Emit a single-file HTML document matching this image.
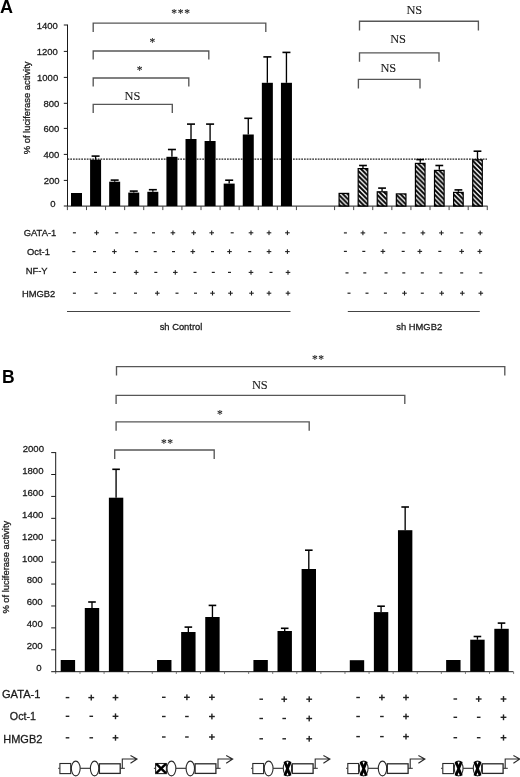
<!DOCTYPE html><html><head><meta charset="utf-8"><style>html,body{margin:0;padding:0;background:#fff;width:520px;height:777px;overflow:hidden}svg{display:block;filter:blur(0.35px)}</style></head><body>
<svg width="520" height="777" viewBox="0 0 520 777">
<defs><pattern id="h" patternUnits="userSpaceOnUse" width="4.8" height="4.8"><path d="M-1.2,-1.2 L6,6 M-1.2,3.6 L1.2,6 M3.6,-1.2 L6,1.2" stroke="#000" stroke-width="1.95"/></pattern></defs>
<rect width="520" height="777" fill="#fff"/>
<text x="-0.10" y="13.00" font-family='"Liberation Sans", sans-serif' font-size="18" text-anchor="start" fill="#000" font-weight="bold">A</text>
<line x1="67.50" y1="24.59" x2="67.50" y2="206.60" stroke="#1a1a1a" stroke-width="1"/>
<line x1="63.80" y1="206.00" x2="67.50" y2="206.00" stroke="#1a1a1a" stroke-width="1"/>
<text x="55.60" y="207.20" font-family='"Liberation Sans", sans-serif' font-size="9.5" text-anchor="end" fill="#1a1a1a"  stroke="#1a1a1a" stroke-width="0.28">0</text>
<line x1="63.80" y1="180.40" x2="67.50" y2="180.40" stroke="#1a1a1a" stroke-width="1"/>
<text x="59.50" y="183.70" font-family='"Liberation Sans", sans-serif' font-size="9.5" text-anchor="end" fill="#1a1a1a"  stroke="#1a1a1a" stroke-width="0.28">200</text>
<line x1="63.80" y1="154.40" x2="67.50" y2="154.40" stroke="#1a1a1a" stroke-width="1"/>
<text x="59.40" y="157.70" font-family='"Liberation Sans", sans-serif' font-size="9.5" text-anchor="end" fill="#1a1a1a"  stroke="#1a1a1a" stroke-width="0.28">400</text>
<line x1="63.80" y1="128.40" x2="67.50" y2="128.40" stroke="#1a1a1a" stroke-width="1"/>
<text x="59.40" y="131.80" font-family='"Liberation Sans", sans-serif' font-size="9.5" text-anchor="end" fill="#1a1a1a"  stroke="#1a1a1a" stroke-width="0.28">600</text>
<line x1="63.80" y1="103.30" x2="67.50" y2="103.30" stroke="#1a1a1a" stroke-width="1"/>
<text x="59.30" y="106.50" font-family='"Liberation Sans", sans-serif' font-size="9.5" text-anchor="end" fill="#1a1a1a"  stroke="#1a1a1a" stroke-width="0.28">800</text>
<line x1="63.80" y1="77.40" x2="67.50" y2="77.40" stroke="#1a1a1a" stroke-width="1"/>
<text x="58.20" y="80.60" font-family='"Liberation Sans", sans-serif' font-size="9.5" text-anchor="end" fill="#1a1a1a"  stroke="#1a1a1a" stroke-width="0.28">1000</text>
<line x1="63.80" y1="51.40" x2="67.50" y2="51.40" stroke="#1a1a1a" stroke-width="1"/>
<text x="57.90" y="54.60" font-family='"Liberation Sans", sans-serif' font-size="9.5" text-anchor="end" fill="#1a1a1a"  stroke="#1a1a1a" stroke-width="0.28">1200</text>
<line x1="63.80" y1="25.00" x2="67.50" y2="25.00" stroke="#1a1a1a" stroke-width="1"/>
<text x="57.80" y="28.50" font-family='"Liberation Sans", sans-serif' font-size="9.5" text-anchor="end" fill="#1a1a1a"  stroke="#1a1a1a" stroke-width="0.28">1400</text>
<text transform="translate(30.4,107.9) rotate(-90)" font-family='"Liberation Sans", sans-serif' font-size="9.4" text-anchor="middle" fill="#1a1a1a" stroke="#1a1a1a" stroke-width="0.28">% of luciferase activity</text>
<line x1="67.50" y1="206.10" x2="487.60" y2="206.10" stroke="#1a1a1a" stroke-width="1"/>
<line x1="67.40" y1="206.10" x2="67.40" y2="210.10" stroke="#444" stroke-width="1"/>
<line x1="86.49" y1="206.10" x2="86.49" y2="210.10" stroke="#444" stroke-width="1"/>
<line x1="105.57" y1="206.10" x2="105.57" y2="210.10" stroke="#444" stroke-width="1"/>
<line x1="124.66" y1="206.10" x2="124.66" y2="210.10" stroke="#444" stroke-width="1"/>
<line x1="143.74" y1="206.10" x2="143.74" y2="210.10" stroke="#444" stroke-width="1"/>
<line x1="162.83" y1="206.10" x2="162.83" y2="210.10" stroke="#444" stroke-width="1"/>
<line x1="181.91" y1="206.10" x2="181.91" y2="210.10" stroke="#444" stroke-width="1"/>
<line x1="201.00" y1="206.10" x2="201.00" y2="210.10" stroke="#444" stroke-width="1"/>
<line x1="220.08" y1="206.10" x2="220.08" y2="210.10" stroke="#444" stroke-width="1"/>
<line x1="239.17" y1="206.10" x2="239.17" y2="210.10" stroke="#444" stroke-width="1"/>
<line x1="258.25" y1="206.10" x2="258.25" y2="210.10" stroke="#444" stroke-width="1"/>
<line x1="277.34" y1="206.10" x2="277.34" y2="210.10" stroke="#444" stroke-width="1"/>
<line x1="296.42" y1="206.10" x2="296.42" y2="210.10" stroke="#444" stroke-width="1"/>
<line x1="334.59" y1="206.10" x2="334.59" y2="210.10" stroke="#444" stroke-width="1"/>
<line x1="353.68" y1="206.10" x2="353.68" y2="210.10" stroke="#444" stroke-width="1"/>
<line x1="372.76" y1="206.10" x2="372.76" y2="210.10" stroke="#444" stroke-width="1"/>
<line x1="391.85" y1="206.10" x2="391.85" y2="210.10" stroke="#444" stroke-width="1"/>
<line x1="410.93" y1="206.10" x2="410.93" y2="210.10" stroke="#444" stroke-width="1"/>
<line x1="430.01" y1="206.10" x2="430.01" y2="210.10" stroke="#444" stroke-width="1"/>
<line x1="449.10" y1="206.10" x2="449.10" y2="210.10" stroke="#444" stroke-width="1"/>
<line x1="468.19" y1="206.10" x2="468.19" y2="210.10" stroke="#444" stroke-width="1"/>
<line x1="487.27" y1="206.10" x2="487.27" y2="210.10" stroke="#444" stroke-width="1"/>
<line x1="67.5" y1="159.1" x2="487" y2="159.1" stroke="#222" stroke-width="1.1" stroke-dasharray="1.75 1.0"/>
<rect x="71.00" y="193.00" width="11.0" height="13.10" fill="#000"/>
<rect x="90.09" y="159.70" width="11.0" height="46.40" fill="#000"/>
<line x1="95.59" y1="159.70" x2="95.59" y2="156.10" stroke="#000" stroke-width="1.35"/>
<line x1="91.59" y1="156.10" x2="99.59" y2="156.10" stroke="#000" stroke-width="1.6"/>
<rect x="109.17" y="181.70" width="11.0" height="24.40" fill="#000"/>
<line x1="114.67" y1="181.70" x2="114.67" y2="180.10" stroke="#000" stroke-width="1.35"/>
<line x1="110.67" y1="180.10" x2="118.67" y2="180.10" stroke="#000" stroke-width="1.6"/>
<rect x="128.25" y="192.60" width="11.0" height="13.50" fill="#000"/>
<line x1="133.75" y1="192.60" x2="133.75" y2="191.10" stroke="#000" stroke-width="1.35"/>
<line x1="129.75" y1="191.10" x2="137.75" y2="191.10" stroke="#000" stroke-width="1.6"/>
<rect x="147.34" y="191.80" width="11.0" height="14.30" fill="#000"/>
<line x1="152.84" y1="191.80" x2="152.84" y2="189.70" stroke="#000" stroke-width="1.35"/>
<line x1="148.84" y1="189.70" x2="156.84" y2="189.70" stroke="#000" stroke-width="1.6"/>
<rect x="166.43" y="156.80" width="11.0" height="49.30" fill="#000"/>
<line x1="171.93" y1="156.80" x2="171.93" y2="149.50" stroke="#000" stroke-width="1.35"/>
<line x1="167.93" y1="149.50" x2="175.93" y2="149.50" stroke="#000" stroke-width="1.6"/>
<rect x="185.51" y="139.00" width="11.0" height="67.10" fill="#000"/>
<line x1="191.01" y1="139.00" x2="191.01" y2="124.10" stroke="#000" stroke-width="1.35"/>
<line x1="187.01" y1="124.10" x2="195.01" y2="124.10" stroke="#000" stroke-width="1.6"/>
<rect x="204.59" y="141.00" width="11.0" height="65.10" fill="#000"/>
<line x1="210.09" y1="141.00" x2="210.09" y2="124.10" stroke="#000" stroke-width="1.35"/>
<line x1="206.09" y1="124.10" x2="214.09" y2="124.10" stroke="#000" stroke-width="1.6"/>
<rect x="223.68" y="183.60" width="11.0" height="22.50" fill="#000"/>
<line x1="229.18" y1="183.60" x2="229.18" y2="180.20" stroke="#000" stroke-width="1.35"/>
<line x1="225.18" y1="180.20" x2="233.18" y2="180.20" stroke="#000" stroke-width="1.6"/>
<rect x="242.77" y="134.50" width="11.0" height="71.60" fill="#000"/>
<line x1="248.27" y1="134.50" x2="248.27" y2="118.30" stroke="#000" stroke-width="1.35"/>
<line x1="244.27" y1="118.30" x2="252.27" y2="118.30" stroke="#000" stroke-width="1.6"/>
<rect x="261.85" y="82.80" width="11.0" height="123.30" fill="#000"/>
<line x1="267.35" y1="82.80" x2="267.35" y2="56.90" stroke="#000" stroke-width="1.35"/>
<line x1="263.35" y1="56.90" x2="271.35" y2="56.90" stroke="#000" stroke-width="1.6"/>
<rect x="280.94" y="82.80" width="11.0" height="123.30" fill="#000"/>
<line x1="286.44" y1="82.80" x2="286.44" y2="52.40" stroke="#000" stroke-width="1.35"/>
<line x1="282.44" y1="52.40" x2="290.44" y2="52.40" stroke="#000" stroke-width="1.6"/>
<rect x="339.09" y="193.40" width="9.60" height="12.70" fill="url(#h)" stroke="#000" stroke-width="1.2"/>
<rect x="358.18" y="168.60" width="9.60" height="37.50" fill="url(#h)" stroke="#000" stroke-width="1.2"/>
<line x1="362.98" y1="168.00" x2="362.98" y2="165.50" stroke="#000" stroke-width="1.35"/>
<line x1="359.08" y1="165.50" x2="366.88" y2="165.50" stroke="#000" stroke-width="1.6"/>
<rect x="377.26" y="191.80" width="9.60" height="14.30" fill="url(#h)" stroke="#000" stroke-width="1.2"/>
<line x1="382.06" y1="191.20" x2="382.06" y2="188.10" stroke="#000" stroke-width="1.35"/>
<line x1="378.16" y1="188.10" x2="385.96" y2="188.10" stroke="#000" stroke-width="1.6"/>
<rect x="396.35" y="193.90" width="9.60" height="12.20" fill="url(#h)" stroke="#000" stroke-width="1.2"/>
<rect x="415.43" y="163.40" width="9.60" height="42.70" fill="url(#h)" stroke="#000" stroke-width="1.2"/>
<line x1="420.23" y1="162.80" x2="420.23" y2="159.60" stroke="#000" stroke-width="1.35"/>
<line x1="416.33" y1="159.60" x2="424.13" y2="159.60" stroke="#000" stroke-width="1.6"/>
<rect x="434.51" y="170.40" width="9.60" height="35.70" fill="url(#h)" stroke="#000" stroke-width="1.2"/>
<line x1="439.31" y1="169.80" x2="439.31" y2="165.50" stroke="#000" stroke-width="1.35"/>
<line x1="435.41" y1="165.50" x2="443.21" y2="165.50" stroke="#000" stroke-width="1.6"/>
<rect x="453.60" y="192.40" width="9.60" height="13.70" fill="url(#h)" stroke="#000" stroke-width="1.2"/>
<line x1="458.40" y1="191.80" x2="458.40" y2="189.90" stroke="#000" stroke-width="1.35"/>
<line x1="454.50" y1="189.90" x2="462.30" y2="189.90" stroke="#000" stroke-width="1.6"/>
<rect x="472.69" y="159.80" width="9.60" height="46.30" fill="url(#h)" stroke="#000" stroke-width="1.2"/>
<line x1="477.49" y1="159.20" x2="477.49" y2="151.20" stroke="#000" stroke-width="1.35"/>
<line x1="473.59" y1="151.20" x2="481.38" y2="151.20" stroke="#000" stroke-width="1.6"/>
<path d="M93.20,32.00 V23.10 H265.80 V32.00" fill="none" stroke="#575757" stroke-width="1.35"/>
<path d="M93.20,59.60 V51.00 H208.80 V59.60" fill="none" stroke="#575757" stroke-width="1.35"/>
<path d="M93.20,86.50 V78.00 H188.80 V86.50" fill="none" stroke="#575757" stroke-width="1.35"/>
<path d="M93.20,113.10 V104.40 H172.30 V113.10" fill="none" stroke="#575757" stroke-width="1.35"/>
<path d="M359.50,30.40 V21.20 H478.40 V30.40" fill="none" stroke="#575757" stroke-width="1.35"/>
<path d="M359.50,61.80 V52.80 H439.00 V61.80" fill="none" stroke="#575757" stroke-width="1.35"/>
<path d="M358.40,88.50 V79.30 H420.00 V88.50" fill="none" stroke="#575757" stroke-width="1.35"/>
<text x="181.05" y="17.40" font-family='"Liberation Serif", serif' font-size="11.5" text-anchor="middle" fill="#1a1a1a" letter-spacing="0.7" stroke="#1a1a1a" stroke-width="0.12">***</text>
<text x="152.75" y="45.80" font-family='"Liberation Serif", serif' font-size="11.5" text-anchor="middle" fill="#1a1a1a" letter-spacing="0.7" stroke="#1a1a1a" stroke-width="0.12">*</text>
<text x="139.95" y="74.20" font-family='"Liberation Serif", serif' font-size="11.5" text-anchor="middle" fill="#1a1a1a" letter-spacing="0.7" stroke="#1a1a1a" stroke-width="0.12">*</text>
<text x="132.40" y="99.60" font-family='"Liberation Serif", serif' font-size="12.4" text-anchor="middle" fill="#1a1a1a"  stroke="#1a1a1a" stroke-width="0.12">NS</text>
<text x="414.30" y="14.20" font-family='"Liberation Serif", serif' font-size="12.4" text-anchor="middle" fill="#1a1a1a"  stroke="#1a1a1a" stroke-width="0.12">NS</text>
<text x="398.10" y="43.40" font-family='"Liberation Serif", serif' font-size="12.4" text-anchor="middle" fill="#1a1a1a"  stroke="#1a1a1a" stroke-width="0.12">NS</text>
<text x="388.30" y="71.70" font-family='"Liberation Serif", serif' font-size="12.4" text-anchor="middle" fill="#1a1a1a"  stroke="#1a1a1a" stroke-width="0.12">NS</text>
<text x="40.00" y="236.20" font-family='"Liberation Sans", sans-serif' font-size="9.4" text-anchor="middle" fill="#1a1a1a"  stroke="#1a1a1a" stroke-width="0.28">GATA-1</text>
<text x="38.50" y="255.10" font-family='"Liberation Sans", sans-serif' font-size="9.4" text-anchor="middle" fill="#1a1a1a"  stroke="#1a1a1a" stroke-width="0.28">Oct-1</text>
<text x="36.70" y="273.90" font-family='"Liberation Sans", sans-serif' font-size="9.4" text-anchor="middle" fill="#1a1a1a"  stroke="#1a1a1a" stroke-width="0.28">NF-Y</text>
<text x="38.60" y="296.90" font-family='"Liberation Sans", sans-serif' font-size="9.4" text-anchor="middle" fill="#1a1a1a"  stroke="#1a1a1a" stroke-width="0.28">HMGB2</text>
<rect x="72.90" y="232.20" width="3.0" height="1.2" fill="#222"/>
<rect x="94.30" y="232.25" width="4.6" height="1.1" fill="#222"/>
<rect x="96.05" y="230.50" width="1.1" height="4.6" fill="#222"/>
<rect x="115.20" y="232.20" width="3.0" height="1.2" fill="#222"/>
<rect x="133.60" y="232.20" width="3.0" height="1.2" fill="#222"/>
<rect x="152.00" y="232.20" width="3.0" height="1.2" fill="#222"/>
<rect x="170.60" y="232.25" width="4.6" height="1.1" fill="#222"/>
<rect x="172.35" y="230.50" width="1.1" height="4.6" fill="#222"/>
<rect x="191.40" y="232.25" width="4.6" height="1.1" fill="#222"/>
<rect x="193.15" y="230.50" width="1.1" height="4.6" fill="#222"/>
<rect x="209.40" y="232.25" width="4.6" height="1.1" fill="#222"/>
<rect x="211.15" y="230.50" width="1.1" height="4.6" fill="#222"/>
<rect x="230.70" y="232.20" width="3.0" height="1.2" fill="#222"/>
<rect x="248.70" y="232.25" width="4.6" height="1.1" fill="#222"/>
<rect x="250.45" y="230.50" width="1.1" height="4.6" fill="#222"/>
<rect x="266.70" y="232.25" width="4.6" height="1.1" fill="#222"/>
<rect x="268.45" y="230.50" width="1.1" height="4.6" fill="#222"/>
<rect x="285.10" y="232.25" width="4.6" height="1.1" fill="#222"/>
<rect x="286.85" y="230.50" width="1.1" height="4.6" fill="#222"/>
<rect x="72.30" y="251.00" width="3.0" height="1.2" fill="#222"/>
<rect x="93.00" y="251.00" width="3.0" height="1.2" fill="#222"/>
<rect x="112.10" y="251.05" width="4.6" height="1.1" fill="#222"/>
<rect x="113.85" y="249.30" width="1.1" height="4.6" fill="#222"/>
<rect x="135.10" y="251.00" width="3.0" height="1.2" fill="#222"/>
<rect x="153.70" y="251.00" width="3.0" height="1.2" fill="#222"/>
<rect x="172.00" y="251.00" width="3.0" height="1.2" fill="#222"/>
<rect x="190.50" y="251.05" width="4.6" height="1.1" fill="#222"/>
<rect x="192.25" y="249.30" width="1.1" height="4.6" fill="#222"/>
<rect x="211.00" y="251.00" width="3.0" height="1.2" fill="#222"/>
<rect x="227.20" y="251.05" width="4.6" height="1.1" fill="#222"/>
<rect x="228.95" y="249.30" width="1.1" height="4.6" fill="#222"/>
<rect x="248.20" y="251.00" width="3.0" height="1.2" fill="#222"/>
<rect x="266.70" y="251.05" width="4.6" height="1.1" fill="#222"/>
<rect x="268.45" y="249.30" width="1.1" height="4.6" fill="#222"/>
<rect x="285.10" y="251.05" width="4.6" height="1.1" fill="#222"/>
<rect x="286.85" y="249.30" width="1.1" height="4.6" fill="#222"/>
<rect x="72.90" y="271.80" width="3.0" height="1.2" fill="#222"/>
<rect x="94.00" y="271.80" width="3.0" height="1.2" fill="#222"/>
<rect x="112.90" y="271.80" width="3.0" height="1.2" fill="#222"/>
<rect x="133.90" y="271.85" width="4.6" height="1.1" fill="#222"/>
<rect x="135.65" y="270.10" width="1.1" height="4.6" fill="#222"/>
<rect x="154.30" y="271.80" width="3.0" height="1.2" fill="#222"/>
<rect x="173.00" y="271.85" width="4.6" height="1.1" fill="#222"/>
<rect x="174.75" y="270.10" width="1.1" height="4.6" fill="#222"/>
<rect x="193.50" y="271.80" width="3.0" height="1.2" fill="#222"/>
<rect x="211.80" y="271.80" width="3.0" height="1.2" fill="#222"/>
<rect x="228.00" y="271.80" width="3.0" height="1.2" fill="#222"/>
<rect x="248.70" y="271.85" width="4.6" height="1.1" fill="#222"/>
<rect x="250.45" y="270.10" width="1.1" height="4.6" fill="#222"/>
<rect x="269.50" y="271.80" width="3.0" height="1.2" fill="#222"/>
<rect x="285.70" y="271.85" width="4.6" height="1.1" fill="#222"/>
<rect x="287.45" y="270.10" width="1.1" height="4.6" fill="#222"/>
<rect x="72.90" y="292.60" width="3.0" height="1.2" fill="#222"/>
<rect x="94.50" y="292.60" width="3.0" height="1.2" fill="#222"/>
<rect x="113.10" y="292.60" width="3.0" height="1.2" fill="#222"/>
<rect x="134.00" y="292.60" width="3.0" height="1.2" fill="#222"/>
<rect x="155.00" y="292.65" width="4.6" height="1.1" fill="#222"/>
<rect x="156.75" y="290.90" width="1.1" height="4.6" fill="#222"/>
<rect x="175.50" y="292.60" width="3.0" height="1.2" fill="#222"/>
<rect x="194.00" y="292.60" width="3.0" height="1.2" fill="#222"/>
<rect x="210.20" y="292.65" width="4.6" height="1.1" fill="#222"/>
<rect x="211.95" y="290.90" width="1.1" height="4.6" fill="#222"/>
<rect x="228.20" y="292.65" width="4.6" height="1.1" fill="#222"/>
<rect x="229.95" y="290.90" width="1.1" height="4.6" fill="#222"/>
<rect x="249.20" y="292.65" width="4.6" height="1.1" fill="#222"/>
<rect x="250.95" y="290.90" width="1.1" height="4.6" fill="#222"/>
<rect x="266.70" y="292.65" width="4.6" height="1.1" fill="#222"/>
<rect x="268.45" y="290.90" width="1.1" height="4.6" fill="#222"/>
<rect x="285.70" y="292.65" width="4.6" height="1.1" fill="#222"/>
<rect x="287.45" y="290.90" width="1.1" height="4.6" fill="#222"/>
<rect x="343.90" y="232.30" width="3.0" height="1.2" fill="#222"/>
<rect x="360.60" y="232.35" width="4.6" height="1.1" fill="#222"/>
<rect x="362.35" y="230.60" width="1.1" height="4.6" fill="#222"/>
<rect x="383.90" y="232.30" width="3.0" height="1.2" fill="#222"/>
<rect x="402.30" y="232.30" width="3.0" height="1.2" fill="#222"/>
<rect x="420.60" y="232.35" width="4.6" height="1.1" fill="#222"/>
<rect x="422.35" y="230.60" width="1.1" height="4.6" fill="#222"/>
<rect x="439.10" y="232.35" width="4.6" height="1.1" fill="#222"/>
<rect x="440.85" y="230.60" width="1.1" height="4.6" fill="#222"/>
<rect x="460.20" y="232.30" width="3.0" height="1.2" fill="#222"/>
<rect x="477.90" y="232.35" width="4.6" height="1.1" fill="#222"/>
<rect x="479.65" y="230.60" width="1.1" height="4.6" fill="#222"/>
<rect x="343.90" y="250.80" width="3.0" height="1.2" fill="#222"/>
<rect x="362.30" y="250.80" width="3.0" height="1.2" fill="#222"/>
<rect x="380.60" y="250.85" width="4.6" height="1.1" fill="#222"/>
<rect x="382.35" y="249.10" width="1.1" height="4.6" fill="#222"/>
<rect x="401.70" y="250.80" width="3.0" height="1.2" fill="#222"/>
<rect x="417.50" y="250.85" width="4.6" height="1.1" fill="#222"/>
<rect x="419.25" y="249.10" width="1.1" height="4.6" fill="#222"/>
<rect x="438.30" y="250.80" width="3.0" height="1.2" fill="#222"/>
<rect x="459.40" y="250.85" width="4.6" height="1.1" fill="#222"/>
<rect x="461.15" y="249.10" width="1.1" height="4.6" fill="#222"/>
<rect x="477.50" y="250.85" width="4.6" height="1.1" fill="#222"/>
<rect x="479.25" y="249.10" width="1.1" height="4.6" fill="#222"/>
<rect x="345.50" y="272.30" width="3.0" height="1.2" fill="#222"/>
<rect x="363.30" y="272.30" width="3.0" height="1.2" fill="#222"/>
<rect x="384.50" y="272.30" width="3.0" height="1.2" fill="#222"/>
<rect x="402.30" y="272.30" width="3.0" height="1.2" fill="#222"/>
<rect x="420.80" y="272.30" width="3.0" height="1.2" fill="#222"/>
<rect x="439.30" y="272.30" width="3.0" height="1.2" fill="#222"/>
<rect x="460.20" y="272.30" width="3.0" height="1.2" fill="#222"/>
<rect x="479.30" y="272.30" width="3.0" height="1.2" fill="#222"/>
<rect x="347.50" y="292.60" width="3.0" height="1.2" fill="#222"/>
<rect x="365.50" y="292.60" width="3.0" height="1.2" fill="#222"/>
<rect x="383.90" y="292.60" width="3.0" height="1.2" fill="#222"/>
<rect x="402.20" y="292.65" width="4.6" height="1.1" fill="#222"/>
<rect x="403.95" y="290.90" width="1.1" height="4.6" fill="#222"/>
<rect x="420.80" y="292.60" width="3.0" height="1.2" fill="#222"/>
<rect x="439.40" y="292.65" width="4.6" height="1.1" fill="#222"/>
<rect x="441.15" y="290.90" width="1.1" height="4.6" fill="#222"/>
<rect x="460.00" y="292.65" width="4.6" height="1.1" fill="#222"/>
<rect x="461.75" y="290.90" width="1.1" height="4.6" fill="#222"/>
<rect x="478.50" y="292.65" width="4.6" height="1.1" fill="#222"/>
<rect x="480.25" y="290.90" width="1.1" height="4.6" fill="#222"/>
<line x1="67.00" y1="311.50" x2="290.50" y2="311.50" stroke="#444" stroke-width="1.1"/>
<line x1="347.80" y1="311.50" x2="479.80" y2="311.50" stroke="#444" stroke-width="1.1"/>
<text x="181.00" y="330.00" font-family='"Liberation Sans", sans-serif' font-size="9.4" text-anchor="middle" fill="#1a1a1a"  stroke="#1a1a1a" stroke-width="0.28">sh Control</text>
<text x="419.20" y="329.80" font-family='"Liberation Sans", sans-serif' font-size="9.4" text-anchor="middle" fill="#1a1a1a"  stroke="#1a1a1a" stroke-width="0.28">sh HMGB2</text>
<text x="1.90" y="382.60" font-family='"Liberation Sans", sans-serif' font-size="17.5" text-anchor="start" fill="#000" font-weight="bold">B</text>
<line x1="55.70" y1="452.10" x2="55.70" y2="672.20" stroke="#1a1a1a" stroke-width="1"/>
<line x1="51.20" y1="671.70" x2="55.70" y2="671.70" stroke="#1a1a1a" stroke-width="1"/>
<text x="41.60" y="671.10" font-family='"Liberation Sans", sans-serif' font-size="9.6" text-anchor="end" fill="#1a1a1a"  stroke="#1a1a1a" stroke-width="0.28">0</text>
<line x1="51.20" y1="649.79" x2="55.70" y2="649.79" stroke="#1a1a1a" stroke-width="1"/>
<text x="42.70" y="649.19" font-family='"Liberation Sans", sans-serif' font-size="9.6" text-anchor="end" fill="#1a1a1a"  stroke="#1a1a1a" stroke-width="0.28">200</text>
<line x1="51.20" y1="627.88" x2="55.70" y2="627.88" stroke="#1a1a1a" stroke-width="1"/>
<text x="42.80" y="627.28" font-family='"Liberation Sans", sans-serif' font-size="9.6" text-anchor="end" fill="#1a1a1a"  stroke="#1a1a1a" stroke-width="0.28">400</text>
<line x1="51.20" y1="605.97" x2="55.70" y2="605.97" stroke="#1a1a1a" stroke-width="1"/>
<text x="42.70" y="605.37" font-family='"Liberation Sans", sans-serif' font-size="9.6" text-anchor="end" fill="#1a1a1a"  stroke="#1a1a1a" stroke-width="0.28">600</text>
<line x1="51.20" y1="584.06" x2="55.70" y2="584.06" stroke="#1a1a1a" stroke-width="1"/>
<text x="42.70" y="583.46" font-family='"Liberation Sans", sans-serif' font-size="9.6" text-anchor="end" fill="#1a1a1a"  stroke="#1a1a1a" stroke-width="0.28">800</text>
<line x1="51.20" y1="562.15" x2="55.70" y2="562.15" stroke="#1a1a1a" stroke-width="1"/>
<text x="43.40" y="561.55" font-family='"Liberation Sans", sans-serif' font-size="9.6" text-anchor="end" fill="#1a1a1a"  stroke="#1a1a1a" stroke-width="0.28">1000</text>
<line x1="51.20" y1="540.24" x2="55.70" y2="540.24" stroke="#1a1a1a" stroke-width="1"/>
<text x="43.40" y="539.64" font-family='"Liberation Sans", sans-serif' font-size="9.6" text-anchor="end" fill="#1a1a1a"  stroke="#1a1a1a" stroke-width="0.28">1200</text>
<line x1="51.20" y1="518.33" x2="55.70" y2="518.33" stroke="#1a1a1a" stroke-width="1"/>
<text x="43.40" y="517.73" font-family='"Liberation Sans", sans-serif' font-size="9.6" text-anchor="end" fill="#1a1a1a"  stroke="#1a1a1a" stroke-width="0.28">1400</text>
<line x1="51.20" y1="496.42" x2="55.70" y2="496.42" stroke="#1a1a1a" stroke-width="1"/>
<text x="43.50" y="495.82" font-family='"Liberation Sans", sans-serif' font-size="9.6" text-anchor="end" fill="#1a1a1a"  stroke="#1a1a1a" stroke-width="0.28">1600</text>
<line x1="51.20" y1="474.51" x2="55.70" y2="474.51" stroke="#1a1a1a" stroke-width="1"/>
<text x="43.50" y="473.91" font-family='"Liberation Sans", sans-serif' font-size="9.6" text-anchor="end" fill="#1a1a1a"  stroke="#1a1a1a" stroke-width="0.28">1800</text>
<line x1="51.20" y1="452.60" x2="55.70" y2="452.60" stroke="#1a1a1a" stroke-width="1"/>
<text x="44.00" y="452.00" font-family='"Liberation Sans", sans-serif' font-size="9.6" text-anchor="end" fill="#1a1a1a"  stroke="#1a1a1a" stroke-width="0.28">2000</text>
<text transform="translate(8.5,567.2) rotate(-90)" font-family='"Liberation Sans", sans-serif' font-size="9.4" text-anchor="middle" fill="#1a1a1a" stroke="#1a1a1a" stroke-width="0.28">% of luciferase activity</text>
<line x1="55.20" y1="671.70" x2="513.40" y2="671.70" stroke="#1a1a1a" stroke-width="1"/>
<line x1="55.70" y1="671.70" x2="55.70" y2="673.90" stroke="#666" stroke-width="0.9"/>
<line x1="79.99" y1="671.70" x2="79.99" y2="673.90" stroke="#666" stroke-width="0.9"/>
<line x1="104.08" y1="671.70" x2="104.08" y2="673.90" stroke="#666" stroke-width="0.9"/>
<line x1="128.17" y1="671.70" x2="128.17" y2="673.90" stroke="#666" stroke-width="0.9"/>
<line x1="152.26" y1="671.70" x2="152.26" y2="673.90" stroke="#666" stroke-width="0.9"/>
<line x1="176.35" y1="671.70" x2="176.35" y2="673.90" stroke="#666" stroke-width="0.9"/>
<line x1="200.44" y1="671.70" x2="200.44" y2="673.90" stroke="#666" stroke-width="0.9"/>
<line x1="224.53" y1="671.70" x2="224.53" y2="673.90" stroke="#666" stroke-width="0.9"/>
<line x1="248.62" y1="671.70" x2="248.62" y2="673.90" stroke="#666" stroke-width="0.9"/>
<line x1="272.71" y1="671.70" x2="272.71" y2="673.90" stroke="#666" stroke-width="0.9"/>
<line x1="296.80" y1="671.70" x2="296.80" y2="673.90" stroke="#666" stroke-width="0.9"/>
<line x1="320.89" y1="671.70" x2="320.89" y2="673.90" stroke="#666" stroke-width="0.9"/>
<line x1="344.98" y1="671.70" x2="344.98" y2="673.90" stroke="#666" stroke-width="0.9"/>
<line x1="369.07" y1="671.70" x2="369.07" y2="673.90" stroke="#666" stroke-width="0.9"/>
<line x1="393.16" y1="671.70" x2="393.16" y2="673.90" stroke="#666" stroke-width="0.9"/>
<line x1="417.25" y1="671.70" x2="417.25" y2="673.90" stroke="#666" stroke-width="0.9"/>
<line x1="441.34" y1="671.70" x2="441.34" y2="673.90" stroke="#666" stroke-width="0.9"/>
<line x1="465.43" y1="671.70" x2="465.43" y2="673.90" stroke="#666" stroke-width="0.9"/>
<line x1="489.52" y1="671.70" x2="489.52" y2="673.90" stroke="#666" stroke-width="0.9"/>
<line x1="513.61" y1="671.70" x2="513.61" y2="673.90" stroke="#666" stroke-width="0.9"/>
<rect x="60.70" y="660.00" width="14.4" height="11.70" fill="#000"/>
<rect x="84.79" y="608.00" width="14.4" height="63.70" fill="#000"/>
<line x1="91.99" y1="608.00" x2="91.99" y2="602.00" stroke="#000" stroke-width="1.35"/>
<line x1="88.19" y1="602.00" x2="95.79" y2="602.00" stroke="#000" stroke-width="1.6"/>
<rect x="108.88" y="497.70" width="14.4" height="174.00" fill="#000"/>
<line x1="116.08" y1="497.70" x2="116.08" y2="469.30" stroke="#000" stroke-width="1.35"/>
<line x1="112.28" y1="469.30" x2="119.88" y2="469.30" stroke="#000" stroke-width="1.6"/>
<rect x="157.06" y="660.00" width="14.4" height="11.70" fill="#000"/>
<rect x="181.15" y="632.00" width="14.4" height="39.70" fill="#000"/>
<line x1="188.35" y1="632.00" x2="188.35" y2="627.10" stroke="#000" stroke-width="1.35"/>
<line x1="184.55" y1="627.10" x2="192.15" y2="627.10" stroke="#000" stroke-width="1.6"/>
<rect x="205.24" y="617.00" width="14.4" height="54.70" fill="#000"/>
<line x1="212.44" y1="617.00" x2="212.44" y2="605.40" stroke="#000" stroke-width="1.35"/>
<line x1="208.64" y1="605.40" x2="216.24" y2="605.40" stroke="#000" stroke-width="1.6"/>
<rect x="253.42" y="660.00" width="14.4" height="11.70" fill="#000"/>
<rect x="277.51" y="631.00" width="14.4" height="40.70" fill="#000"/>
<line x1="284.71" y1="631.00" x2="284.71" y2="628.30" stroke="#000" stroke-width="1.35"/>
<line x1="280.91" y1="628.30" x2="288.51" y2="628.30" stroke="#000" stroke-width="1.6"/>
<rect x="301.60" y="569.00" width="14.4" height="102.70" fill="#000"/>
<line x1="308.80" y1="569.00" x2="308.80" y2="550.20" stroke="#000" stroke-width="1.35"/>
<line x1="305.00" y1="550.20" x2="312.60" y2="550.20" stroke="#000" stroke-width="1.6"/>
<rect x="349.78" y="660.20" width="14.4" height="11.50" fill="#000"/>
<rect x="373.87" y="612.10" width="14.4" height="59.60" fill="#000"/>
<line x1="381.07" y1="612.10" x2="381.07" y2="606.20" stroke="#000" stroke-width="1.35"/>
<line x1="377.27" y1="606.20" x2="384.87" y2="606.20" stroke="#000" stroke-width="1.6"/>
<rect x="397.96" y="530.20" width="14.4" height="141.50" fill="#000"/>
<line x1="405.16" y1="530.20" x2="405.16" y2="507.00" stroke="#000" stroke-width="1.35"/>
<line x1="401.36" y1="507.00" x2="408.96" y2="507.00" stroke="#000" stroke-width="1.6"/>
<rect x="446.14" y="660.00" width="14.4" height="11.70" fill="#000"/>
<rect x="470.23" y="639.70" width="14.4" height="32.00" fill="#000"/>
<line x1="477.43" y1="639.70" x2="477.43" y2="636.50" stroke="#000" stroke-width="1.35"/>
<line x1="473.63" y1="636.50" x2="481.23" y2="636.50" stroke="#000" stroke-width="1.6"/>
<rect x="494.32" y="628.80" width="14.4" height="42.90" fill="#000"/>
<line x1="501.52" y1="628.80" x2="501.52" y2="623.10" stroke="#000" stroke-width="1.35"/>
<line x1="497.72" y1="623.10" x2="505.32" y2="623.10" stroke="#000" stroke-width="1.6"/>
<path d="M116.50,375.60 V366.60 H504.80 V375.60" fill="none" stroke="#575757" stroke-width="1.35"/>
<path d="M116.10,404.00 V395.40 H404.80 V404.00" fill="none" stroke="#575757" stroke-width="1.35"/>
<path d="M116.10,430.70 V421.90 H309.20 V430.70" fill="none" stroke="#575757" stroke-width="1.35"/>
<path d="M114.70,458.90 V450.00 H214.20 V458.90" fill="none" stroke="#575757" stroke-width="1.35"/>
<text x="318.35" y="363.30" font-family='"Liberation Serif", serif' font-size="11.5" text-anchor="middle" fill="#1a1a1a" letter-spacing="0.7" stroke="#1a1a1a" stroke-width="0.12">**</text>
<text x="259.80" y="388.80" font-family='"Liberation Serif", serif' font-size="12.4" text-anchor="middle" fill="#1a1a1a"  stroke="#1a1a1a" stroke-width="0.12">NS</text>
<text x="220.15" y="418.20" font-family='"Liberation Serif", serif' font-size="11.5" text-anchor="middle" fill="#1a1a1a" letter-spacing="0.7" stroke="#1a1a1a" stroke-width="0.12">*</text>
<text x="167.35" y="447.20" font-family='"Liberation Serif", serif' font-size="11.5" text-anchor="middle" fill="#1a1a1a" letter-spacing="0.7" stroke="#1a1a1a" stroke-width="0.12">**</text>
<text x="21.20" y="698.00" font-family='"Liberation Sans", sans-serif' font-size="11.1" text-anchor="middle" fill="#1a1a1a"  stroke="#1a1a1a" stroke-width="0.28">GATA-1</text>
<text x="22.90" y="720.00" font-family='"Liberation Sans", sans-serif' font-size="10.7" text-anchor="middle" fill="#1a1a1a"  stroke="#1a1a1a" stroke-width="0.28">Oct-1</text>
<text x="22.80" y="743.00" font-family='"Liberation Sans", sans-serif' font-size="11.0" text-anchor="middle" fill="#1a1a1a"  stroke="#1a1a1a" stroke-width="0.28">HMGB2</text>
<rect x="65.70" y="696.90" width="3.6" height="1.4" fill="#222"/>
<rect x="88.35" y="696.90" width="5.8" height="1.4" fill="#222"/>
<rect x="90.55" y="694.70" width="1.4" height="5.8" fill="#222"/>
<rect x="112.60" y="696.90" width="5.8" height="1.4" fill="#222"/>
<rect x="114.80" y="694.70" width="1.4" height="5.8" fill="#222"/>
<rect x="65.70" y="715.60" width="3.6" height="1.4" fill="#222"/>
<rect x="89.45" y="715.60" width="3.6" height="1.4" fill="#222"/>
<rect x="112.60" y="715.60" width="5.8" height="1.4" fill="#222"/>
<rect x="114.80" y="713.40" width="1.4" height="5.8" fill="#222"/>
<rect x="65.70" y="737.10" width="3.6" height="1.4" fill="#222"/>
<rect x="89.45" y="737.10" width="3.6" height="1.4" fill="#222"/>
<rect x="112.60" y="737.10" width="5.8" height="1.4" fill="#222"/>
<rect x="114.80" y="734.90" width="1.4" height="5.8" fill="#222"/>
<rect x="162.00" y="696.60" width="3.6" height="1.4" fill="#222"/>
<rect x="184.00" y="696.60" width="5.8" height="1.4" fill="#222"/>
<rect x="186.20" y="694.40" width="1.4" height="5.8" fill="#222"/>
<rect x="209.00" y="696.60" width="5.8" height="1.4" fill="#222"/>
<rect x="211.20" y="694.40" width="1.4" height="5.8" fill="#222"/>
<rect x="162.00" y="715.80" width="3.6" height="1.4" fill="#222"/>
<rect x="185.10" y="715.80" width="3.6" height="1.4" fill="#222"/>
<rect x="209.00" y="715.80" width="5.8" height="1.4" fill="#222"/>
<rect x="211.20" y="713.60" width="1.4" height="5.8" fill="#222"/>
<rect x="162.00" y="736.30" width="3.6" height="1.4" fill="#222"/>
<rect x="185.10" y="736.30" width="3.6" height="1.4" fill="#222"/>
<rect x="209.00" y="736.30" width="5.8" height="1.4" fill="#222"/>
<rect x="211.20" y="734.10" width="1.4" height="5.8" fill="#222"/>
<rect x="259.40" y="698.50" width="3.6" height="1.4" fill="#222"/>
<rect x="281.30" y="698.50" width="5.8" height="1.4" fill="#222"/>
<rect x="283.50" y="696.30" width="1.4" height="5.8" fill="#222"/>
<rect x="306.30" y="698.50" width="5.8" height="1.4" fill="#222"/>
<rect x="308.50" y="696.30" width="1.4" height="5.8" fill="#222"/>
<rect x="259.40" y="717.80" width="3.6" height="1.4" fill="#222"/>
<rect x="282.40" y="717.80" width="3.6" height="1.4" fill="#222"/>
<rect x="306.30" y="717.80" width="5.8" height="1.4" fill="#222"/>
<rect x="308.50" y="715.60" width="1.4" height="5.8" fill="#222"/>
<rect x="259.40" y="738.10" width="3.6" height="1.4" fill="#222"/>
<rect x="282.40" y="738.10" width="3.6" height="1.4" fill="#222"/>
<rect x="306.30" y="738.10" width="5.8" height="1.4" fill="#222"/>
<rect x="308.50" y="735.90" width="1.4" height="5.8" fill="#222"/>
<rect x="356.30" y="696.80" width="3.6" height="1.4" fill="#222"/>
<rect x="379.00" y="696.80" width="5.8" height="1.4" fill="#222"/>
<rect x="381.20" y="694.60" width="1.4" height="5.8" fill="#222"/>
<rect x="403.10" y="696.80" width="5.8" height="1.4" fill="#222"/>
<rect x="405.30" y="694.60" width="1.4" height="5.8" fill="#222"/>
<rect x="356.30" y="715.80" width="3.6" height="1.4" fill="#222"/>
<rect x="380.10" y="715.80" width="3.6" height="1.4" fill="#222"/>
<rect x="403.10" y="715.80" width="5.8" height="1.4" fill="#222"/>
<rect x="405.30" y="713.60" width="1.4" height="5.8" fill="#222"/>
<rect x="356.30" y="735.90" width="3.6" height="1.4" fill="#222"/>
<rect x="380.10" y="735.90" width="3.6" height="1.4" fill="#222"/>
<rect x="403.10" y="735.90" width="5.8" height="1.4" fill="#222"/>
<rect x="405.30" y="733.70" width="1.4" height="5.8" fill="#222"/>
<rect x="453.50" y="698.30" width="3.6" height="1.4" fill="#222"/>
<rect x="475.80" y="698.30" width="5.8" height="1.4" fill="#222"/>
<rect x="478.00" y="696.10" width="1.4" height="5.8" fill="#222"/>
<rect x="500.60" y="698.30" width="5.8" height="1.4" fill="#222"/>
<rect x="502.80" y="696.10" width="1.4" height="5.8" fill="#222"/>
<rect x="453.50" y="716.60" width="3.6" height="1.4" fill="#222"/>
<rect x="476.90" y="716.60" width="3.6" height="1.4" fill="#222"/>
<rect x="500.60" y="716.60" width="5.8" height="1.4" fill="#222"/>
<rect x="502.80" y="714.40" width="1.4" height="5.8" fill="#222"/>
<rect x="453.50" y="737.00" width="3.6" height="1.4" fill="#222"/>
<rect x="476.90" y="737.00" width="3.6" height="1.4" fill="#222"/>
<rect x="500.60" y="737.00" width="5.8" height="1.4" fill="#222"/>
<rect x="502.80" y="734.80" width="1.4" height="5.8" fill="#222"/>
<g transform="translate(0,0.6)"><line x1="58.20" y1="767.7" x2="59.60" y2="767.7" stroke="#2a2a2a" stroke-width="1"/><rect x="59.90" y="762.9" width="10.8" height="10.1" fill="none" stroke="#2a2a2a" stroke-width="1.1"/><ellipse cx="75.75" cy="767.9" rx="4.4" ry="7.4" fill="none" stroke="#2a2a2a" stroke-width="1.1"/><line x1="80.20" y1="767.7" x2="90.40" y2="767.7" stroke="#2a2a2a" stroke-width="1.1"/><ellipse cx="94.60" cy="767.9" rx="4.2" ry="7.4" fill="none" stroke="#2a2a2a" stroke-width="1.1"/><rect x="99.40" y="763.2" width="20.8" height="9.6" fill="none" stroke="#2a2a2a" stroke-width="1.3"/><line x1="120.30" y1="767.7" x2="124.90" y2="767.7" stroke="#2a2a2a" stroke-width="1"/><path d="M122.30,767.7 V758.4 H136.80 M130.50,755.0 L137.00,758.4 L130.50,762.7" fill="none" stroke="#2a2a2a" stroke-width="1.1"/></g>
<g transform="translate(0,0.6)"><line x1="153.90" y1="767.7" x2="155.30" y2="767.7" stroke="#2a2a2a" stroke-width="1"/><rect x="155.60" y="762.9" width="10.8" height="10.1" fill="none" stroke="#2a2a2a" stroke-width="1.1"/><ellipse cx="171.45" cy="767.9" rx="4.4" ry="7.4" fill="none" stroke="#2a2a2a" stroke-width="1.1"/><line x1="175.90" y1="767.7" x2="186.10" y2="767.7" stroke="#2a2a2a" stroke-width="1.1"/><ellipse cx="190.30" cy="767.9" rx="4.2" ry="7.4" fill="none" stroke="#2a2a2a" stroke-width="1.1"/><rect x="195.10" y="763.2" width="20.8" height="9.6" fill="none" stroke="#2a2a2a" stroke-width="1.3"/><line x1="216.00" y1="767.7" x2="220.60" y2="767.7" stroke="#2a2a2a" stroke-width="1"/><path d="M218.00,767.7 V758.4 H232.50 M226.20,755.0 L232.70,758.4 L226.20,762.7" fill="none" stroke="#2a2a2a" stroke-width="1.1"/><path d="M156.30,763.3 L165.90,772.6 M165.90,763.3 L156.30,772.6" stroke="#000" stroke-width="2.4"/></g>
<g transform="translate(0,0.6)"><line x1="251.10" y1="767.7" x2="252.50" y2="767.7" stroke="#2a2a2a" stroke-width="1"/><rect x="252.80" y="762.9" width="10.8" height="10.1" fill="none" stroke="#2a2a2a" stroke-width="1.1"/><ellipse cx="268.65" cy="767.9" rx="4.4" ry="7.4" fill="none" stroke="#2a2a2a" stroke-width="1.1"/><line x1="273.10" y1="767.7" x2="283.30" y2="767.7" stroke="#2a2a2a" stroke-width="1.1"/><ellipse cx="287.50" cy="767.9" rx="4.2" ry="7.4" fill="none" stroke="#2a2a2a" stroke-width="1.1"/><rect x="292.30" y="763.2" width="20.8" height="9.6" fill="none" stroke="#2a2a2a" stroke-width="1.3"/><line x1="313.20" y1="767.7" x2="317.80" y2="767.7" stroke="#2a2a2a" stroke-width="1"/><path d="M315.20,767.7 V758.4 H329.70 M323.40,755.0 L329.90,758.4 L323.40,762.7" fill="none" stroke="#2a2a2a" stroke-width="1.1"/><path d="M284.80,761.0 L290.20,775.2 M290.20,761.0 L284.80,775.2" stroke="#000" stroke-width="2.7"/></g>
<g transform="translate(0,0.6)"><line x1="346.10" y1="767.7" x2="347.50" y2="767.7" stroke="#2a2a2a" stroke-width="1"/><rect x="347.80" y="762.9" width="10.8" height="10.1" fill="none" stroke="#2a2a2a" stroke-width="1.1"/><ellipse cx="363.65" cy="767.9" rx="4.4" ry="7.4" fill="none" stroke="#2a2a2a" stroke-width="1.1"/><line x1="368.10" y1="767.7" x2="378.30" y2="767.7" stroke="#2a2a2a" stroke-width="1.1"/><ellipse cx="382.50" cy="767.9" rx="4.2" ry="7.4" fill="none" stroke="#2a2a2a" stroke-width="1.1"/><rect x="387.30" y="763.2" width="20.8" height="9.6" fill="none" stroke="#2a2a2a" stroke-width="1.3"/><line x1="408.20" y1="767.7" x2="412.80" y2="767.7" stroke="#2a2a2a" stroke-width="1"/><path d="M410.20,767.7 V758.4 H424.70 M418.40,755.0 L424.90,758.4 L418.40,762.7" fill="none" stroke="#2a2a2a" stroke-width="1.1"/><path d="M360.90,761.0 L366.40,775.2 M366.40,761.0 L360.90,775.2" stroke="#000" stroke-width="2.7"/></g>
<g transform="translate(0,0.6)"><line x1="441.10" y1="767.7" x2="442.50" y2="767.7" stroke="#2a2a2a" stroke-width="1"/><rect x="442.80" y="762.9" width="10.8" height="10.1" fill="none" stroke="#2a2a2a" stroke-width="1.1"/><ellipse cx="458.65" cy="767.9" rx="4.4" ry="7.4" fill="none" stroke="#2a2a2a" stroke-width="1.1"/><line x1="463.10" y1="767.7" x2="473.30" y2="767.7" stroke="#2a2a2a" stroke-width="1.1"/><ellipse cx="477.50" cy="767.9" rx="4.2" ry="7.4" fill="none" stroke="#2a2a2a" stroke-width="1.1"/><rect x="482.30" y="763.2" width="20.8" height="9.6" fill="none" stroke="#2a2a2a" stroke-width="1.3"/><line x1="503.20" y1="767.7" x2="507.80" y2="767.7" stroke="#2a2a2a" stroke-width="1"/><path d="M505.20,767.7 V758.4 H519.70 M513.40,755.0 L519.90,758.4 L513.40,762.7" fill="none" stroke="#2a2a2a" stroke-width="1.1"/><path d="M455.90,761.0 L461.40,775.2 M461.40,761.0 L455.90,775.2" stroke="#000" stroke-width="2.7"/><path d="M474.80,761.0 L480.20,775.2 M480.20,761.0 L474.80,775.2" stroke="#000" stroke-width="2.7"/></g>
</svg></body></html>
